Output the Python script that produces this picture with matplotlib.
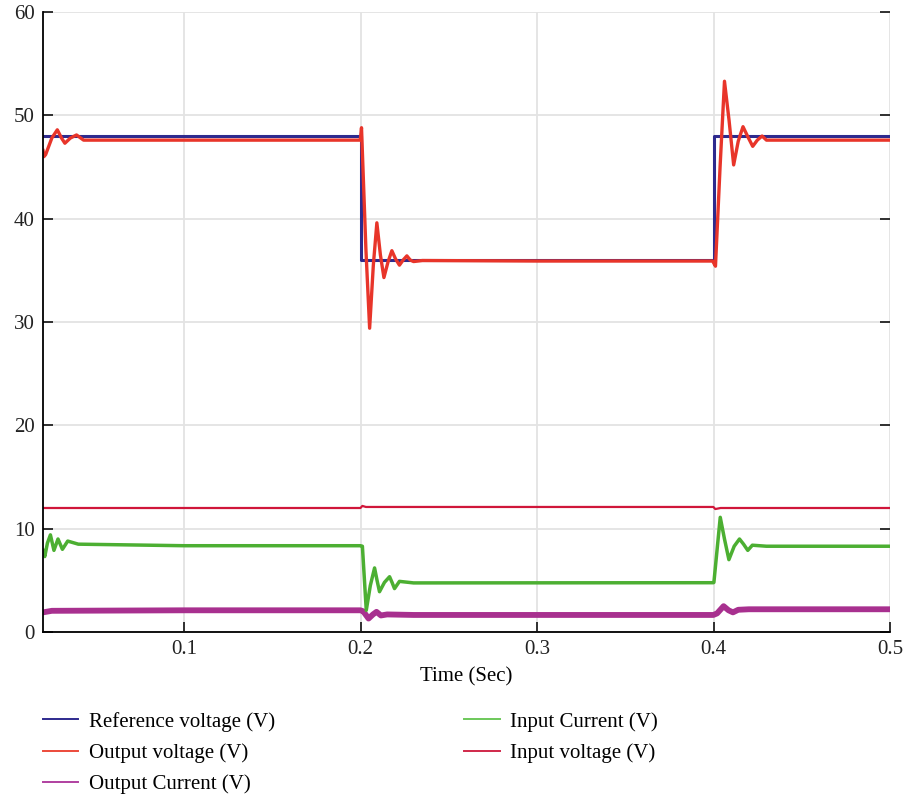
import matplotlib.pyplot as plt
from matplotlib.lines import Line2D

plt.rcParams["font.family"] = ["Liberation Serif", "DejaVu Serif"]

# reference voltage (step changes)
ref_t = [0.02, 0.2, 0.2, 0.4, 0.4, 0.5]
ref_v = [48, 48, 36, 36, 48, 48]

# output voltage
out_t = [0.0200, 0.0205, 0.0215, 0.0250, 0.0281, 0.0305, 0.0324, 0.0355, 0.0390,
         0.0430, 0.0500, 0.1000, 0.1998, 0.2005, 0.2030, 0.2051, 0.2072, 0.2092,
         0.2112, 0.2132, 0.2155, 0.2177, 0.2198, 0.2220, 0.2241, 0.2262, 0.2281,
         0.2300, 0.2350, 0.3000, 0.3995, 0.4011, 0.4037, 0.4062, 0.4088, 0.4114,
         0.4140, 0.4167, 0.4195, 0.4222, 0.4248, 0.4275, 0.4300, 0.4400, 0.5000]
out_v = [46.6, 46.0, 46.2, 47.8, 48.6, 47.8, 47.3, 47.8, 48.1,
         47.6, 47.6, 47.6, 47.6, 48.8, 37.0, 29.4, 35.5, 39.6,
         36.5, 34.3, 35.8, 36.9, 36.1, 35.5, 36.0, 36.4, 36.0,
         35.85, 35.95, 35.9, 35.9, 35.4, 45.0, 53.3, 49.5, 45.2,
         47.5, 48.9, 47.9, 47.0, 47.6, 48.0, 47.6, 47.6, 47.6]

# output current
oc_t = [0.020, 0.025, 0.100, 0.1999, 0.2015, 0.2045, 0.2070, 0.2090, 0.2115,
        0.2150, 0.2300, 0.3999, 0.4020, 0.4057, 0.4085, 0.4110, 0.4140, 0.4200, 0.5000]
oc_v = [1.9, 2.05, 2.1, 2.1, 2.0, 1.3, 1.7, 1.95, 1.6,
        1.7, 1.65, 1.65, 1.8, 2.5, 2.1, 1.9, 2.15, 2.2, 2.2]

# input current
ic_t = [0.0200, 0.0210, 0.0225, 0.0242, 0.0262, 0.0285, 0.0310, 0.0340, 0.0400,
        0.1000, 0.1999, 0.2010, 0.2032, 0.2055, 0.2079, 0.2093, 0.2107, 0.2135,
        0.2164, 0.2178, 0.2192, 0.2220, 0.2300, 0.3999, 0.4002, 0.4038, 0.4062,
        0.4087, 0.4117, 0.4147, 0.4170, 0.4194, 0.4220, 0.4300, 0.5000]
ic_v = [7.9, 7.3, 8.6, 9.4, 7.9, 9.0, 8.0, 8.8, 8.5,
        8.35, 8.35, 8.3, 2.1, 4.5, 6.2, 5.0, 3.9, 4.8,
        5.35, 4.8, 4.2, 4.9, 4.75, 4.77, 4.8, 11.1, 9.0,
        7.0, 8.3, 9.0, 8.5, 7.9, 8.4, 8.3, 8.3]

# input voltage
iv_t = [0.020, 0.1999, 0.2010, 0.2030, 0.3999, 0.4010, 0.4040, 0.5000]
iv_v = [12.0, 12.0, 12.2, 12.1, 12.1, 11.9, 12.0, 12.0]

colors = ["#2e2a8e", "#e8352a", "#a8308f", "#4caf32", "#d0163a"]
labels = ["Reference voltage (V)", "Output voltage (V)", "Output Current (V)",
          "Input Current (V)", "Input voltage (V)"]
legend_colors = ["#2e2a8e", "#ec4a3a", "#b040a0", "#6cc85a", "#d0284a"]

fig = plt.figure(figsize=(9.04, 7.99), dpi=100)
ax = fig.add_axes([43 / 904, 1 - 632 / 799, (890 - 43) / 904, (632 - 12) / 799])

ax.plot(ref_t, ref_v, color=colors[0], lw=2.2)
ax.plot(out_t, out_v, color=colors[1], lw=2.4)
ax.plot(oc_t, oc_v, color=colors[2], lw=4.2)
ax.plot(ic_t, ic_v, color=colors[3], lw=2.5)
ax.plot(iv_t, iv_v, color=colors[4], lw=1.6)

ax.set_xlim(0.02, 0.5)
ax.set_ylim(0, 60)
ax.set_xticks([0.1, 0.2, 0.3, 0.4, 0.5])
ax.set_xticklabels(["0.1", "0.2", "0.3", "0.4", "0.5"])
ax.set_yticks([0, 10, 20, 30, 40, 50, 60])
ax.grid(True, color="#e3e3e3", lw=1.3)
ax.set_axisbelow(True)
ax.spines["top"].set_visible(False)
ax.spines["right"].set_visible(False)
ax.spines["left"].set_linewidth(1.3)
ax.spines["bottom"].set_linewidth(1.3)
ax.tick_params(direction="in", length=7, width=1.3, labelsize=15, colors="#222222",
               right=True, pad=6)
ax.set_xlabel("Time (Sec)", fontsize=15, labelpad=6)

handles = [Line2D([], [], color=c, lw=1.4) for c in legend_colors]
fig.legend(handles, labels, loc="upper left", bbox_to_anchor=(24 / 904, 1 - 693 / 799),
           ncol=2, frameon=False, fontsize=15, handlelength=1.7, columnspacing=9.1,
           labelspacing=0.56, handletextpad=0.5)

fig.savefig("out.png", dpi=100)
